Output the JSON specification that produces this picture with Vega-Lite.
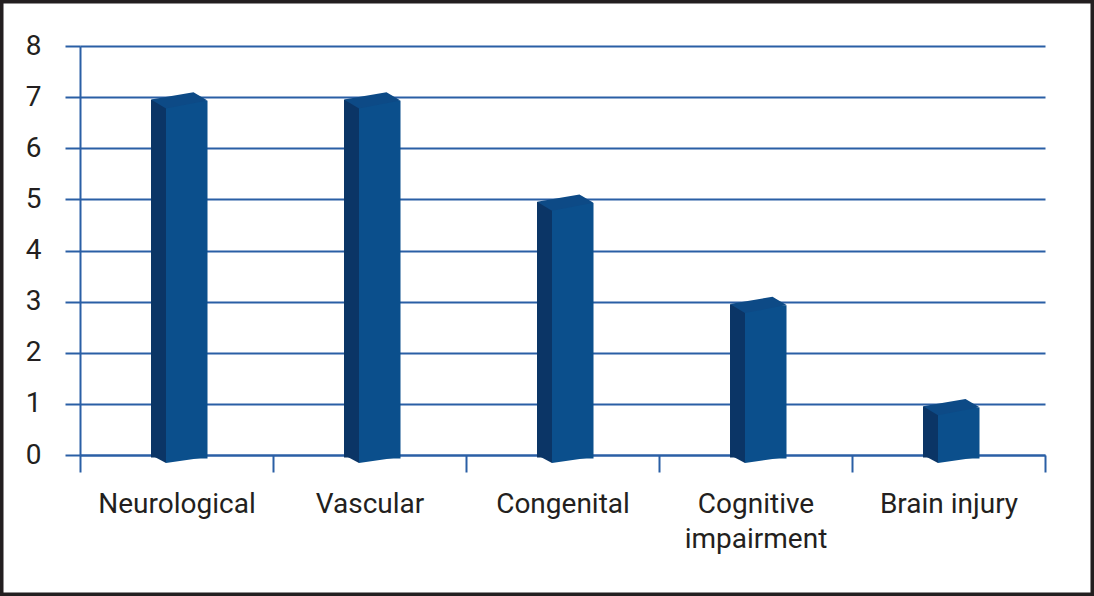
{
  "$schema": "https://vega.github.io/schema/vega-lite/v6.json",
  "width": 1094,
  "height": 596,
  "autosize": {"type": "none"},
  "padding": 0,
  "background": "white",
  "config": {
    "view": {"stroke": "#231f20", "strokeWidth": 7},
    "font": "Roboto"
  },
  "data": {
    "values": [
      {"cause": "Neurological", "count": 7},
      {"cause": "Vascular", "count": 7},
      {"cause": "Congenital", "count": 5},
      {"cause": "Cognitive impairment", "count": 3},
      {"cause": "Brain injury", "count": 1}
    ]
  },
  "encoding": {
    "x": {
      "field": "cause",
      "type": "nominal",
      "sort": null,
      "scale": {"range": [80, 1045], "paddingInner": 0, "paddingOuter": 0},
      "axis": {
        "title": null,
        "orient": "bottom",
        "offset": -141,
        "labelAngle": 0,
        "tickBand": "extent",
        "tickSize": 17,
        "tickColor": "#2a5fa5",
        "tickWidth": 2,
        "domainColor": "#2a5fa5",
        "domainWidth": 2,
        "labelPadding": 18,
        "labelFont": "Roboto",
        "labelFontSize": 28,
        "labelColor": "#231f20",
        "labelLineHeight": 35,
        "labelLimit": 300,
        "labelExpr": "datum.value == 'Cognitive impairment' ? ['Cognitive', 'impairment'] : datum.value"
      }
    }
  },
  "layer": [
    {
      "mark": {"type": "bar", "width": 15, "xOffset": -18, "yOffset": 2.5, "y2Offset": 0, "color": "#0b3566"},
      "encoding": {
        "y": {
          "field": "count",
          "type": "quantitative",
          "scale": {"domain": [0, 8], "range": [455, 46], "nice": false, "zero": true},
          "axis": {
            "title": null,
            "orient": "left",
            "offset": -80,
            "values": [0, 1, 2, 3, 4, 5, 6, 7, 8],
            "format": "d",
            "grid": true,
            "gridColor": "#2a5fa5",
            "gridWidth": 2,
            "gridOpacity": 1,
            "tickSize": 15,
            "tickColor": "#2a5fa5",
            "tickWidth": 2,
            "domainColor": "#2a5fa5",
            "domainWidth": 2,
            "labelPadding": 24,
            "labelFont": "Roboto",
            "labelFontSize": 28,
            "labelColor": "#231f20"
          }
        }
      }
    },
    {
      "mark": {"type": "bar", "width": 41.5, "xOffset": 10.25, "yOffset": 3.5, "y2Offset": 2, "color": "#0b4f8c"},
      "encoding": {
        "y": {"field": "count", "type": "quantitative"}
      }
    },
    {
      "mark": {"type": "point", "filled": true, "opacity": 1, "strokeWidth": 0, "size": 4096, "color": "#0b3566",
        "shape": "M-0.797,0L-0.328,0L-0.328,0.25Z"},
      "encoding": {
        "y": {"datum": 0, "type": "quantitative"}
      }
    },
    {
      "mark": {"type": "point", "filled": true, "opacity": 1, "strokeWidth": 0, "size": 4096, "color": "#0b4f8c",
        "shape": "M-0.33,0.0625L0.969,0.0625L-0.33,0.25Z"},
      "encoding": {
        "y": {"datum": 0, "type": "quantitative"}
      }
    },
    {
      "mark": {"type": "point", "filled": true, "opacity": 1, "strokeWidth": 0, "size": 4096, "color": "#0d4a86",
        "shape": "M-0.797,0.078L0.531,-0.156L0.969,0.109L-0.328,0.359Z"},
      "encoding": {
        "y": {"field": "count", "type": "quantitative"}
      }
    }
  ]
}
